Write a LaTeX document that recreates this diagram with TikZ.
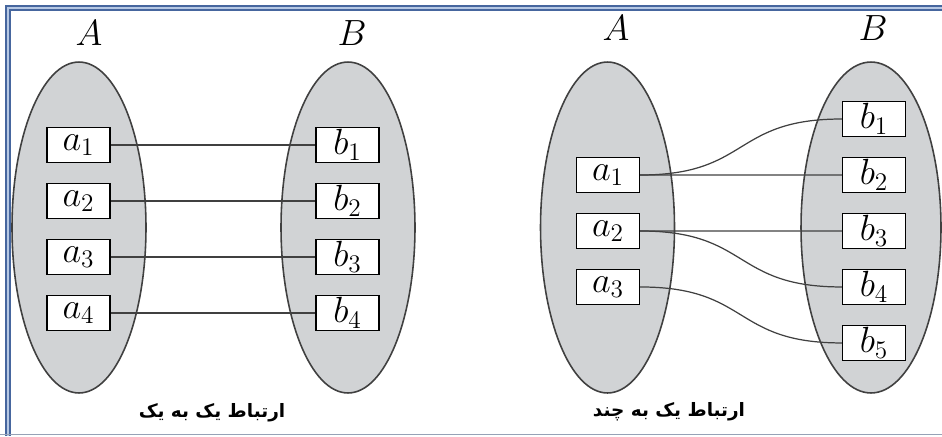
\documentclass[tikz,border=0pt]{standalone}
\usepackage{fontspec}
\usepackage{xcolor}
\usepackage{tikz}
\usetikzlibrary{shapes,arrows,positioning}
\newfontfamily\farsifont[Script=Arabic]{DejaVu Sans}
\TeXXeTstate=1
\definecolor{setgray}{RGB}{209,211,213}
\definecolor{framebl}{RGB}{70,102,158}
\definecolor{framelt}{RGB}{182,200,228}
\definecolor{rulegray}{RGB}{150,162,182}

\begin{document}
\begin{tikzpicture}[x=0.02cm, y=-0.02cm, node distance=1.12cm]
    \tikzstyle{ellset} = [ellipse, draw=black!75, fill=setgray, line width=0.9pt,
        minimum width=2.68cm, minimum height=6.62cm, inner sep=0pt]
    \tikzstyle{item} = [rectangle, draw, fill=white, line width=0.8pt,
        minimum width=1.26cm, minimum height=0.7cm, inner sep=0pt, font=\huge]
    \tikzstyle{setname} = [font=\huge]
    \tikzstyle{caption} = [font=\farsifont\bfseries\fontsize{10.5}{12}\selectfont]
    \tikzstyle{line} = [draw, black!75, line width=0.7pt]

    \useasboundingbox (0,0) rectangle (942,436);
    \draw [framebl, line width=1.1pt, double=framelt, double distance=1.1pt] (942,8) -- (8,8) -- (8,436);
    \draw [rulegray, line width=1pt] (0,434.5) -- (942,434.5);

    % one to one
    \node [ellset] (setA) at (79,227.5) {};
    \node [ellset] (setB) at (348,227.5) {};
    \node [setname] (nameA) at (89,33) {$A$};
    \node [setname] (nameB) at (352,33) {$B$};

    \node [item] (a1) at (78.5,145) {$a_1$};
    \node [item, below of=a1] (a2) {$a_2$};
    \node [item, below of=a2] (a3) {$a_3$};
    \node [item, below of=a3] (a4) {$a_4$};
    \node [item] (b1) at (347.5,145) {$b_1$};
    \node [item, below of=b1] (b2) {$b_2$};
    \node [item, below of=b2] (b3) {$b_3$};
    \node [item, below of=b3] (b4) {$b_4$};

    \path [line] (a1) -- (b1);
    \path [line] (a2) -- (b2);
    \path [line] (a3) -- (b3);
    \path [line] (a4) -- (b4);

    \node [caption] (cap1) at (212,413) {\beginR ارتباط یک به یک\endR};

    % one to many
    \node [ellset] (setC) at (607.5,227.5) {};
    \node [ellset, minimum width=2.8cm] (setD) at (871,227.5) {};
    \node [setname] (nameC) at (616,28) {$A$};
    \node [setname] (nameD) at (873,28) {$B$};

    \node [item] (ra1) at (608,175) {$a_1$};
    \node [item, below of=ra1] (ra2) {$a_2$};
    \node [item, below of=ra2] (ra3) {$a_3$};
    \node [item] (rb1) at (874,119) {$b_1$};
    \node [item, below of=rb1] (rb2) {$b_2$};
    \node [item, below of=rb2] (rb3) {$b_3$};
    \node [item, below of=rb3] (rb4) {$b_4$};
    \node [item, below of=rb4] (rb5) {$b_5$};

    \path [line] (ra1.east) .. controls +(2.2cm,0) and +(-2.2cm,0) .. (rb1.west);
    \path [line] (ra1) -- (rb2);
    \path [line] (ra2) -- (rb3);
    \path [line] (ra2.east) .. controls +(2.2cm,0) and +(-2.2cm,0) .. (rb4.west);
    \path [line] (ra3.east) .. controls +(2.2cm,0) and +(-2.2cm,0) .. (rb5.west);

    \node [caption] (cap2) at (669,412) {\beginR ارتباط یک به چند\endR};
\end{tikzpicture}
\end{document}
